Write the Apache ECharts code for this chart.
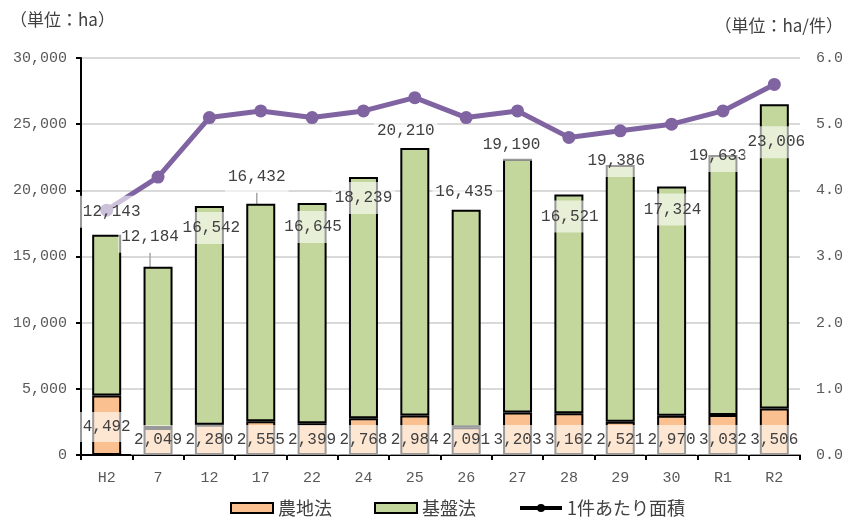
<!DOCTYPE html>
<html>
<head>
<meta charset="utf-8">
<script src="https://cdn.jsdelivr.net/npm/echarts@6/dist/echarts.min.js"></script>
<style>
html,body{margin:0;padding:0;background:#fff;}
#chart{width:848px;height:517px;}
</style>
</head>
<body>
<div id="chart"></div>
<script>
// ---- data ----
const categories = ['H2','7','12','17','22','24','25','26','27','28','29','30','R1','R2'];
const nochiho = [4492,2049,2280,2555,2399,2768,2984,2091,3203,3162,2521,2970,3032,3506];   // 農地法 (ha)
const kibanho = [12143,12184,16542,16432,16645,18239,20210,16435,19190,16521,19386,17324,19633,23006]; // 基盤法 (ha)
const perCase = [3.7,4.2,5.1,5.2,5.1,5.2,5.4,5.1,5.2,4.8,4.9,5.0,5.2,5.6]; // 1件あたり面積 (ha/件)
const leftTicks = [0,5000,10000,15000,20000,25000,30000];
const rightTicks = [0,1,2,3,4,5,6];
const seriesNames = ['農地法','基盤法','1件あたり面積'];

// label nudges (styling only)
const greenDx = [5,-8,2,-4,1,0,-9,-2,-6,1,-4,1,-5,2];
const greenDy = [-7,-14,38,-11,40,37,-1,-2,2,38,12,39,17,54];
const orangeDy = [-13,0,0,0,0,0,0,0,0,0,0,0,0,0];
const guideIdx = [1,3];

const numFont = 'Liberation Mono';
const jpFont = 'Noto Sans CJK JP';
const fmt = v => Number(v).toLocaleString('en-US');

const labelBox = {
  show: true,
  fontFamily: numFont,
  fontSize: 16,
  lineHeight: 16,
  color: '#404040',
  backgroundColor: 'rgba(255,255,255,0.6)',
  padding: [8, 3],
  formatter: p => fmt(p.value)
};

const chart = echarts.init(document.getElementById('chart'), null, {renderer: 'canvas'});
chart.setOption({
  animation: false,
  backgroundColor: '#fff',
  title: [
    {text: '（単位：ha）', left: 5, top: 6,
     textStyle: {fontFamily: jpFont, fontSize: 17, fontWeight: 'normal', color: '#404040'}},
    {text: '（単位：ha/件）', right: 0, top: 12,
     textStyle: {fontFamily: jpFont, fontSize: 17, fontWeight: 'normal', color: '#404040'}}
  ],
  legend: {
    left: 225, top: 494,
    itemWidth: 42, itemHeight: 10, itemGap: 42,
    textStyle: {fontFamily: jpFont, fontSize: 18, color: '#404040'},
    data: [
      {name: seriesNames[0], icon: 'rect'},
      {name: seriesNames[1], icon: 'rect'},
      {name: seriesNames[2], itemStyle: {color: '#000', borderColor: '#000'}, lineStyle: {color: '#000', width: 4}}
    ]
  },
  grid: {left: 81, right: 48, top: 58, bottom: 62, containLabel: false},
  xAxis: {
    type: 'category',
    data: categories,
    boundaryGap: true,
    axisLine: {show: true, lineStyle: {color: '#000', width: 2}},
    axisTick: {show: true, alignWithLabel: false, length: 5, lineStyle: {color: '#000', width: 2}},
    axisLabel: {fontFamily: numFont, fontSize: 15, color: '#595959', margin: 16}
  },
  yAxis: [
    {
      type: 'value', min: leftTicks[0], max: leftTicks[leftTicks.length-1],
      interval: leftTicks[1]-leftTicks[0],
      axisLine: {show: true, lineStyle: {color: '#000', width: 2}},
      axisTick: {show: true, length: 5, lineStyle: {color: '#000', width: 2}},
      splitLine: {show: true, lineStyle: {color: '#d9d9d9', width: 2}},
      axisLabel: {fontFamily: numFont, fontSize: 15, color: '#595959', margin: 14, formatter: v => fmt(v)}
    },
    {
      type: 'value', min: rightTicks[0], max: rightTicks[rightTicks.length-1],
      interval: rightTicks[1]-rightTicks[0], position: 'right',
      axisLine: {show: false}, axisTick: {show: false}, splitLine: {show: false},
      axisLabel: {fontFamily: numFont, fontSize: 15, color: '#595959', margin: 16, formatter: v => v.toFixed(1)}
    }
  ],
  series: [
    {
      name: seriesNames[0], type: 'bar', stack: 'area', barWidth: 29, z: 5,
      itemStyle: {color: '#FAC090', borderColor: '#000', borderWidth: 2},
      label: Object.assign({}, labelBox, {position: 'insideBottom', distance: 0, padding: [7, 3]}),
      labelLayout: p => ({dy: orangeDy[p.dataIndex]}),
      data: nochiho
    },
    {
      name: seriesNames[1], type: 'bar', stack: 'area', barWidth: 29, z: 5,
      itemStyle: {color: '#C3D69B', borderColor: '#000', borderWidth: 2},
      label: Object.assign({}, labelBox, {position: 'top', distance: 0}),
      labelLine: {show: false},
      labelLayout: p => ({dx: greenDx[p.dataIndex], dy: greenDy[p.dataIndex]}),
      data: kibanho.map((v, i) => guideIdx.includes(i)
        ? {value: v, labelLine: {show: true, lineStyle: {color: '#a6a6a6', width: 1.5}}}
        : v)
    },
    {
      name: seriesNames[2], type: 'line', yAxisIndex: 1, z: 3,
      symbol: 'circle', symbolSize: 13,
      lineStyle: {color: '#8064A2', width: 5},
      itemStyle: {color: '#8064A2'},
      data: perCase
    }
  ]
});
</script>
</body>
</html>
